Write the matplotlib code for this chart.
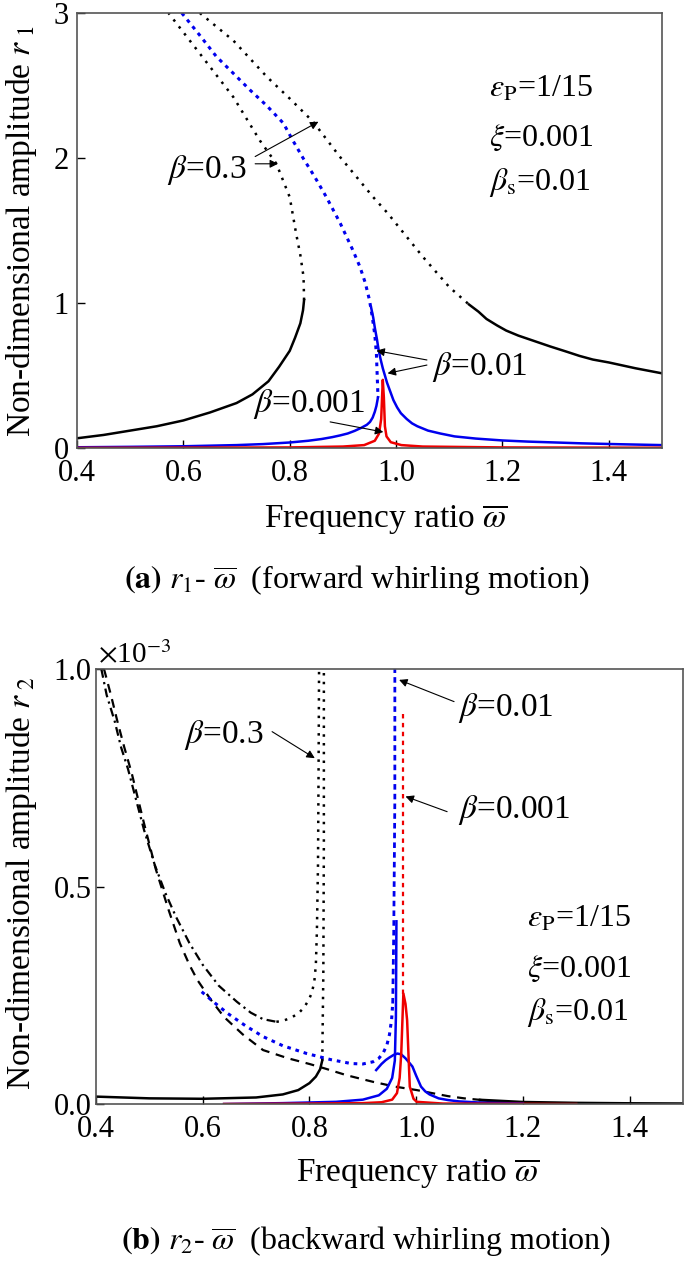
import numpy as np
import matplotlib
matplotlib.use('Agg')
import matplotlib.pyplot as plt
from matplotlib import rcParams

config = {
    "font.family": ['Liberation Serif', 'DejaVu Serif'],
    "font.size": 22,
    "mathtext.fontset": 'stix',
    'axes.unicode_minus': False
}
rcParams.update(config)

# ---------------- (a) r1 - omega, forward whirling ----------------
# beta = 0.3 (black)
w03_low = [0.40, 0.45, 0.50, 0.55, 0.60, 0.65, 0.70, 0.73, 0.76, 0.78, 0.80, 0.81, 0.82, 0.825, 0.827]
r03_low = [0.067, 0.09, 0.12, 0.15, 0.19, 0.245, 0.31, 0.37, 0.46, 0.56, 0.67, 0.76, 0.86, 0.95, 1.02]
w03_mid = [0.827, 0.826, 0.820, 0.812, 0.800, 0.775, 0.744, 0.694, 0.631, 0.572]
r03_mid = [1.02, 1.18, 1.33, 1.48, 1.73, 1.96, 2.12, 2.42, 2.72, 3.0]
w03_up = [0.631, 0.694, 0.757, 0.800, 0.844, 0.894, 0.957, 0.984, 1.050, 1.100, 1.137]
r03_up = [3.0, 2.81, 2.56, 2.41, 2.25, 2.01, 1.73, 1.62, 1.32, 1.11, 0.99]
w03_right = [1.137, 1.155, 1.17, 1.19, 1.207, 1.23, 1.25, 1.27, 1.29, 1.32, 1.345, 1.37, 1.40, 1.45, 1.50]
r03_right = [0.99, 0.94, 0.89, 0.845, 0.81, 0.775, 0.75, 0.725, 0.70, 0.665, 0.635, 0.61, 0.59, 0.55, 0.515]

# beta = 0.01 (blue)
w001_dot = [0.597, 0.63, 0.662, 0.695, 0.725, 0.757, 0.788, 0.806, 0.825, 0.847, 0.869, 0.895,
            0.918, 0.932, 0.942, 0.950, 0.955, 0.960, 0.963, 0.966]
r001_dot = [3.0, 2.85, 2.70, 2.58, 2.47, 2.36, 2.24, 2.12, 2.0, 1.87, 1.73, 1.55,
            1.37, 1.25, 1.14, 1.02, 0.91, 0.78, 0.65, 0.35]
w001_right = [0.953, 0.957, 0.960, 0.964, 0.967, 0.971, 0.975, 0.979, 0.983, 0.989, 0.995, 1.002,
              1.009, 1.02, 1.03, 1.04, 1.06, 1.083, 1.11, 1.15, 1.2, 1.249, 1.3, 1.35, 1.42, 1.5]
r001_right = [0.97, 0.90, 0.83, 0.75, 0.68, 0.61, 0.55, 0.50, 0.45, 0.39, 0.33, 0.28,
              0.24, 0.2, 0.17, 0.15, 0.12, 0.10, 0.08, 0.065, 0.052, 0.044, 0.038, 0.032, 0.026, 0.02]
w001_left = [0.4, 0.5, 0.6, 0.7, 0.75, 0.8, 0.835, 0.86, 0.88, 0.895, 0.909, 0.922, 0.935,
             0.945, 0.951, 0.956, 0.96, 0.963, 0.966]
r001_left = [0.005, 0.008, 0.012, 0.02, 0.027, 0.038, 0.05, 0.062, 0.075, 0.087, 0.10, 0.118, 0.14,
             0.16, 0.18, 0.21, 0.25, 0.29, 0.35]

# beta = 0.001 (red)
w0001 = [0.40, 0.80, 0.90, 0.94, 0.96, 0.968, 0.972, 0.975, 0.977, 0.979, 0.982, 0.99, 1.01, 1.05, 1.2, 1.5]
r0001 = [0.001, 0.004, 0.01, 0.02, 0.05, 0.1, 0.2, 0.47, 0.35, 0.15, 0.08, 0.04, 0.02, 0.01, 0.004, 0.002]

# ---------------- (b) r2 - omega, backward whirling (x1e-3) ----------------
# beta = 0.3 (black)
wA_dash = [0.41, 0.42, 0.435, 0.447, 0.46, 0.475, 0.49, 0.51, 0.53, 0.55, 0.575, 0.60,
           0.63, 0.664, 0.69, 0.713, 0.738]
rA_dash = [1.0, 0.94, 0.88, 0.82, 0.77, 0.70, 0.63, 0.55, 0.485, 0.43, 0.37, 0.32,
           0.272, 0.235, 0.21, 0.195, 0.189]
wA_dot = [0.738, 0.75, 0.765, 0.779, 0.79, 0.798, 0.804, 0.809, 0.812, 0.814, 0.816, 0.817, 0.818]
rA_dot = [0.189, 0.191, 0.198, 0.208, 0.222, 0.238, 0.254, 0.28, 0.32, 0.40, 0.55, 0.75, 1.0]
wB = [0.415, 0.428, 0.44, 0.453, 0.467, 0.49, 0.512, 0.535, 0.557, 0.575, 0.59, 0.615, 0.64,
      0.675, 0.713, 0.76, 0.8, 0.828, 0.87, 0.919, 0.96, 1.001, 1.03, 1.06, 1.09, 1.124]
rB = [1.0, 0.94, 0.88, 0.82, 0.76, 0.645, 0.54, 0.45, 0.37, 0.32, 0.285, 0.24, 0.20,
      0.16, 0.124, 0.105, 0.092, 0.082, 0.066, 0.051, 0.04, 0.032, 0.025, 0.018, 0.013, 0.009]
wV = [0.824, 0.826, 0.827, 0.827]
rV = [0.10, 0.3, 0.6, 1.0]
wK_low = [0.40, 0.50, 0.60, 0.70, 0.75, 0.779, 0.80, 0.812, 0.82, 0.824]
rK_low = [0.017, 0.013, 0.012, 0.015, 0.022, 0.032, 0.048, 0.063, 0.08, 0.10]
wK_right = [1.12, 1.2, 1.3, 1.4, 1.5]
rK_right = [0.009, 0.004, 0.002, 0.001, 0.0005]

# beta = 0.01 (blue)
wC_dot = [0.598, 0.62, 0.647, 0.68, 0.713, 0.75, 0.795, 0.84, 0.878, 0.90, 0.919, 0.93,
          0.938, 0.945, 0.95, 0.954, 0.956]
rC_dot = [0.258, 0.235, 0.208, 0.18, 0.155, 0.134, 0.116, 0.102, 0.093, 0.092, 0.097, 0.105,
          0.117, 0.135, 0.16, 0.195, 0.231]
wC_vert = [0.956, 0.958, 0.960, 0.960]
rC_vert = [0.231, 0.4, 0.7, 1.0]
wC_low = [0.64, 0.75, 0.85, 0.90, 0.93, 0.945, 0.955, 0.96, 0.962, 0.963]
rC_low = [0.0, 0.002, 0.005, 0.01, 0.02, 0.035, 0.06, 0.1, 0.2, 0.42]
wC_hump = [0.925, 0.935, 0.943, 0.95, 0.958, 0.965, 0.972, 0.98, 0.987, 0.993, 1.0, 1.009,
           1.017, 1.025, 1.042, 1.06, 1.08, 1.124, 1.2]
rC_hump = [0.078, 0.092, 0.101, 0.107, 0.113, 0.116, 0.114, 0.105, 0.095, 0.086, 0.065, 0.040,
           0.029, 0.022, 0.013, 0.009, 0.006, 0.003, 0.001]

# beta = 0.001 (red)
wR = [0.64, 0.8, 0.9, 0.935, 0.955, 0.964, 0.969, 0.972, 0.976, 0.98, 0.983, 0.986, 0.988,
      0.995, 1.001, 1.05, 1.3]
rR = [0, 0.001, 0.002, 0.004, 0.01, 0.025, 0.06, 0.116, 0.254, 0.23, 0.193, 0.1, 0.04,
      0.012, 0.005, 0.001, 0]
wR_vert = [0.976, 0.976, 0.976]
rR_vert = [0.254, 0.6, 0.906]

xticks = [0.4, 0.6, 0.8, 1.0, 1.2, 1.4]
xticklabels = ['0.4', '0.6', '0.8', '1.0', '1.2', '1.4']

DOT = (0, (1, 2.5))
BDOT = (0, (1.2, 1.6))


def style_axes(ax):
    for s in ax.spines.values():
        s.set_color('#555555')
        s.set_linewidth(1.2)
    ax.tick_params(direction='in', length=6, width=1, top=False, right=False,
                   labelsize=22, pad=6)
    ax.set_xlim(0.4, 1.5)
    ax.set_xticks(xticks)
    ax.set_xticklabels(xticklabels)


def arrow(ax, start, end):
    ax.annotate('', xy=end, xytext=start,
                arrowprops=dict(arrowstyle='-|>', color='k', lw=0.8,
                                mutation_scale=12, shrinkA=0, shrinkB=0))


def main():
    fig = plt.figure(figsize=(6.85, 12.64), dpi=100)

    # ---------- panel (a) ----------
    ax1 = fig.add_axes([0.1124, 0.64557, 0.854, 0.34415])
    ax1.plot(w03_low, r03_low, color='k', lw=1.8)
    ax1.plot(w03_mid, r03_mid, color='k', lw=1.8, linestyle=DOT)
    ax1.plot(w03_up, r03_up, color='k', lw=1.8, linestyle=DOT)
    ax1.plot(w03_right, r03_right, color='k', lw=1.8)
    ax1.plot(w001_dot, r001_dot, color='#0000ee', lw=2.2, linestyle=BDOT)
    ax1.plot(w001_left, r001_left, color='#0000ee', lw=1.8)
    ax1.plot(w001_right, r001_right, color='#0000ee', lw=1.8)
    ax1.plot(w0001, r0001, color='#ee0000', lw=1.8)
    style_axes(ax1)
    ax1.tick_params(axis='x', pad=8)
    ax1.set_ylim(0, 3)
    ax1.set_yticks([0, 1, 2, 3])
    ax1.set_yticklabels(['0', '1', '2', '3'])

    ax1.text(0.644, 1.92, r'$\beta$=0.3', fontsize=24, ha='center', va='center')
    arrow(ax1, (0.735, 2.01), (0.854, 2.25))
    arrow(ax1, (0.735, 1.96), (0.778, 1.96))
    ax1.text(1.067, 0.56, r'$\beta$=0.01', fontsize=24, ha='left', va='center')
    arrow(ax1, (1.058, 0.607), (0.963, 0.671))
    arrow(ax1, (1.058, 0.572), (0.984, 0.515))
    ax1.text(0.836, 0.30, r'$\beta$=0.001', fontsize=24, ha='center', va='center')
    arrow(ax1, (0.876, 0.18), (0.976, 0.11))
    ax1.text(1.174, 2.42, r'$\varepsilon_{\rm P}$=1/15', fontsize=23, va='baseline')
    ax1.text(1.174, 2.08, r'$\xi$=0.001', fontsize=23, va='baseline')
    ax1.text(1.174, 1.78, r'$\beta_{\rm s}$=0.01', fontsize=23, va='baseline')

    fig.text(22 / 685, 1 - 231 / 1264, r'Non-dimensional amplitude $r_{\ 1}$',
             rotation=90, fontsize=24, ha='center', va='center')
    fig.text(386 / 685, 1 - 520 / 1264, r'Frequency ratio $\overline{\omega}$',
             fontsize=24, ha='center', va='center')
    fig.text(357 / 685, 1 - 580 / 1264,
             r'$\mathbf{(a)}$ $r_{\rm 1}$- $\overline{\omega}$  (forward whirling motion)',
             fontsize=23, ha='center', va='center')

    # ---------- panel (b) ----------
    ax2 = fig.add_axes([0.14015, 0.12658, 0.85693, 0.34415])
    ax2.plot(wB, rB, color='k', lw=1.6, linestyle=(0, (4, 3)))
    ax2.plot(wA_dash, rA_dash, color='k', lw=1.6, linestyle=(0, (4, 2, 1, 2)))
    ax2.plot(wA_dot, rA_dot, color='k', lw=1.8, linestyle=DOT)
    ax2.plot(wV, rV, color='k', lw=1.8, linestyle=DOT)
    ax2.plot(wK_low, rK_low, color='k', lw=1.8)
    ax2.plot(wK_right, rK_right, color='k', lw=2.2)
    ax2.plot(wC_dot, rC_dot, color='#0000ee', lw=2.2, linestyle=BDOT)
    ax2.plot(wC_vert, rC_vert, color='#0000ee', lw=2.0, linestyle=(0, (2, 1.5)))
    ax2.plot(wC_low, rC_low, color='#0000ee', lw=1.8)
    ax2.plot(wC_hump, rC_hump, color='#0000ee', lw=1.8)
    ax2.plot(wR, rR, color='#ee0000', lw=1.8)
    ax2.plot(wR_vert, rR_vert, color='#ee0000', lw=1.6, linestyle=(0, (2, 2)))
    style_axes(ax2)
    ax2.set_ylim(0, 1.0)
    ax2.set_yticks([0, 0.5, 1.0])
    ax2.set_yticklabels(['0.0', '0.5', '1.0'])
    ax2.tick_params(axis='y', pad=3)
    ax2.tick_params(axis='x', pad=8)
    ax2.text(0.003, 1.0, r'$\times$10$^{-3}$', transform=ax2.transAxes,
             fontsize=21, ha='left', va='bottom')

    ax2.text(0.640, 0.848, r'$\beta$=0.3', fontsize=24, ha='center', va='center')
    arrow(ax2, (0.730, 0.856), (0.810, 0.795))
    ax2.text(1.078, 0.910, r'$\beta$=0.01', fontsize=24, ha='left', va='center')
    arrow(ax2, (1.071, 0.925), (0.968, 0.975))
    ax2.text(1.078, 0.676, r'$\beta$=0.001', fontsize=24, ha='left', va='center')
    arrow(ax2, (1.058, 0.672), (0.980, 0.707))
    ax2.text(1.208, 0.407, r'$\varepsilon_{\rm P}$=1/15', fontsize=23, va='baseline')
    ax2.text(1.208, 0.292, r'$\xi$=0.001', fontsize=23, va='baseline')
    ax2.text(1.208, 0.193, r'$\beta_{\rm s}$=0.01', fontsize=23, va='baseline')

    fig.text(22 / 685, 1 - 883 / 1264, r'Non-dimensional amplitude $r_{\ 2}$',
             rotation=90, fontsize=24, ha='center', va='center')
    fig.text(418 / 685, 1 - 1174 / 1264, r'Frequency ratio $\overline{\omega}$',
             fontsize=24, ha='center', va='center')
    fig.text(366 / 685, 1 - 1241 / 1264,
             r'$\mathbf{(b)}$ $r_{\rm 2}$- $\overline{\omega}$  (backward whirling motion)',
             fontsize=23, ha='center', va='center')

    fig.savefig('out.png', dpi=100)


if __name__ == '__main__':
    main()
